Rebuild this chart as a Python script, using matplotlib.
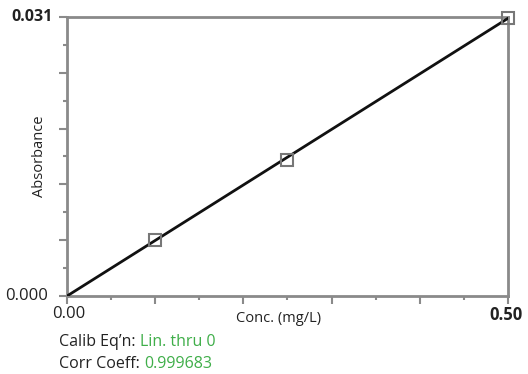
import matplotlib.pyplot as plt
import numpy as np

# calibration standards
conc = [0.10, 0.25, 0.50]
absorb = [0.0062, 0.0151, 0.0309]
slope = 0.0617   # linear thru 0
corr = '0.999683'
xmax = 0.50
ymax = 0.031

plt.rcParams['font.family'] = ['Open Sans', 'DejaVu Sans']

fig = plt.figure(figsize=(5.28, 3.74), dpi=100)
ax = fig.add_axes([0.127, 0.2086, 0.835, 0.746])

xs = np.array([0, xmax])
ax.plot(xs, slope * xs, color='#111111', lw=2.0, zorder=3)
ax.plot(conc, absorb, ls='none', marker='s', ms=9, mfc='none', mec='#777777', mew=1.5, zorder=4, clip_on=False)

ax.set_xlim(0, xmax)
ax.set_ylim(0, ymax)

gray = '#8a8a8a'
for s in ax.spines.values():
    s.set_color(gray)
    s.set_linewidth(2)

ax.set_xticks(np.arange(0, 0.51, 0.1))
ax.set_xticks(np.arange(0.05, 0.5, 0.1), minor=True)
ax.set_yticks(np.linspace(0, ymax, 6))
ax.set_yticks(np.linspace(0.0031, ymax - 0.0031, 5), minor=True)
ax.set_xticklabels([])
ax.set_yticklabels([])
ax.tick_params(which='major', length=6, width=1.5, color=gray, direction='out')
ax.tick_params(which='minor', length=3, width=1.5, color=gray, direction='out')

tf = ax.transAxes
dark = '#222222'
ax.text(-0.032, 1.0, '0.031', transform=tf, ha='right', va='center', fontsize=11.5, weight='bold', color=dark)
ax.text(-0.043, 0.0, '0.000', transform=tf, ha='right', va='center', fontsize=12, color=dark)
ax.text(0.004, -0.035, '0.00', transform=tf, ha='center', va='top', fontsize=12, color=dark)
ax.text(0.995, -0.035, '0.50', transform=tf, ha='center', va='top', fontsize=12, weight='bold', color=dark)
ax.text(0.48, -0.055, 'Conc. (mg/L)', transform=tf, ha='center', va='top', fontsize=10.5, color=dark)
ax.text(-0.063, 0.5, 'Absorbance', transform=tf, ha='center', va='center', rotation=90, fontsize=10.5, color=dark)

green = '#3fae49'
x0 = 0.112
t1 = fig.text(x0, 0.086, "Calib Eq\u2019n: ", ha='left', va='center', fontsize=11.5, color=dark)
fig.canvas.draw()
bb = t1.get_window_extent()
fig.text(bb.x1 / fig.bbox.width, 0.086, 'Lin. thru 0', ha='left', va='center', fontsize=11.5, color=green)
t2 = fig.text(x0, 0.028, 'Corr Coeff: ', ha='left', va='center', fontsize=11.5, color=dark)
fig.canvas.draw()
bb = t2.get_window_extent()
fig.text(bb.x1 / fig.bbox.width, 0.028, corr, ha='left', va='center', fontsize=11.5, color=green)

fig.savefig('out.png', dpi=100)
